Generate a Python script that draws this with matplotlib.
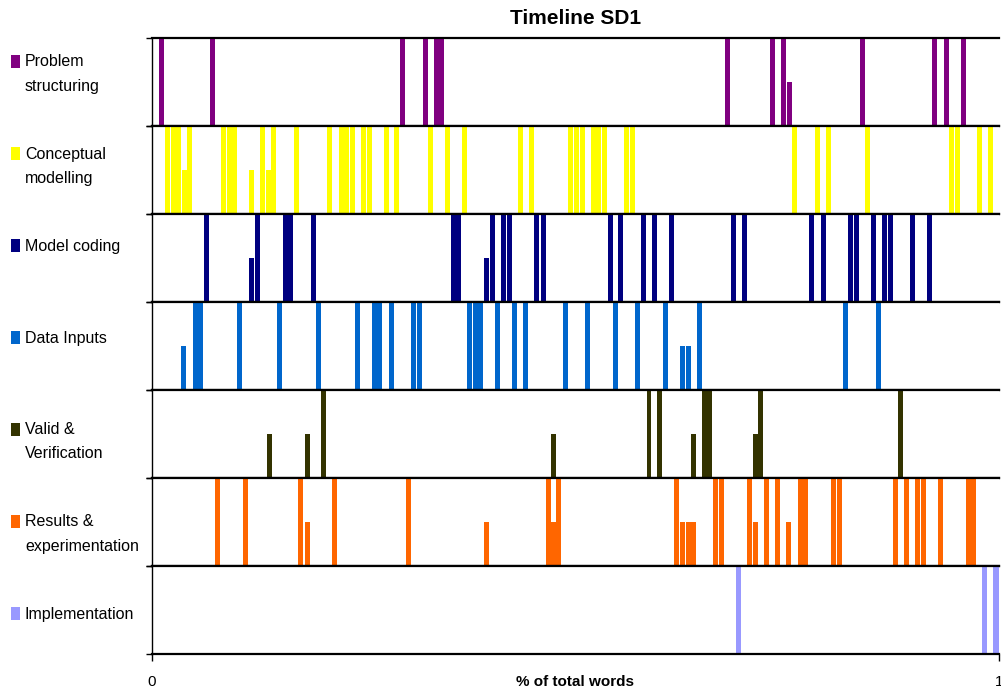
import matplotlib.pyplot as plt
from matplotlib.patches import Rectangle

plt.rcParams['font.family'] = ['Liberation Sans Narrow', 'Liberation Sans', 'DejaVu Sans']

# categories, top to bottom
categories = ["Problem\nstructuring", "Conceptual\nmodelling", "Model coding", "Data Inputs",
              "Valid &\nVerification", "Results &\nexperimentation", "Implementation"]
colors = ["#800080", "#FFFF00", "#000080", "#0066CC", "#333300", "#FF6600", "#9999FF"]

# start of each coded segment (fraction of total words); full = whole row, half = half row
ps_full = [0.0083, 0.0685, 0.2928, 0.3200, 0.3329, 0.3388, 0.6769, 0.7296, 0.7426,
           0.8359, 0.9209, 0.9351, 0.9551]
ps_half = [0.7497]

cm_full = [0.0153, 0.0224, 0.0283, 0.0413, 0.0815, 0.0885, 0.0945, 0.1275, 0.1405,
           0.1673, 0.2066, 0.2208, 0.2267, 0.2334, 0.2468, 0.2538, 0.2739, 0.2857,
           0.3259, 0.3459, 0.3660, 0.4321, 0.4455, 0.4915, 0.4982, 0.5050, 0.5183,
           0.5242, 0.5309, 0.5573, 0.5643, 0.7556, 0.7828, 0.7958, 0.8418, 0.9413,
           0.9481, 0.9740, 0.9870]
cm_half = [0.0351, 0.1145, 0.1342]

mc_full = [0.0614, 0.1216, 0.1547, 0.1606, 0.1877, 0.3530, 0.3589, 0.3991, 0.4120,
           0.4191, 0.4510, 0.4593, 0.5384, 0.5502, 0.5773, 0.5903, 0.6104, 0.6836,
           0.6966, 0.7757, 0.7898, 0.8217, 0.8288, 0.8489, 0.8619, 0.8690, 0.8949,
           0.9150]
mc_half = [0.1145, 0.3920]

di_full = [0.0484, 0.0543, 0.1004, 0.1476, 0.1936, 0.2397, 0.2597, 0.2656, 0.2798,
           0.3058, 0.3129, 0.3719, 0.3790, 0.3849, 0.4050, 0.4250, 0.4380, 0.4852,
           0.5112, 0.5443, 0.5702, 0.6033, 0.6434, 0.8158, 0.8548]
di_half = [0.0342, 0.6234, 0.6305]

vv_full = [0.1995, 0.5839, 0.5968, 0.6494, 0.6557, 0.7155, 0.8813]
vv_half = [0.1354, 0.1809, 0.4711, 0.6364, 0.7096]

re_full = [0.0744, 0.1074, 0.1724, 0.2125, 0.2999, 0.4652, 0.4770, 0.6163, 0.6623,
           0.6694, 0.7025, 0.7226, 0.7355, 0.7627, 0.7686, 0.8017, 0.8087, 0.8749,
           0.8878, 0.9008, 0.9079, 0.9280, 0.9610, 0.9669]
re_half = [0.1806, 0.3920, 0.4711, 0.6234, 0.6305, 0.6364, 0.7096, 0.7485]

im_full = [0.6895, 0.9799, 0.9929, 0.9988]
im_half = []

full_sets = [ps_full, cm_full, mc_full, di_full, vv_full, re_full, im_full]
half_sets = [ps_half, cm_half, mc_half, di_half, vv_half, re_half, im_half]
seg_w = 0.0058

W, H = 1001, 694
fig = plt.figure(figsize=(W / 100, H / 100), dpi=100)

left, right, top0, row_h = 152, 999, 38, 88
for i, (cat, col) in enumerate(zip(categories, colors)):
    top = top0 + row_h * i
    ax = fig.add_axes([left / W, 1 - (top + row_h) / H, (right - left) / W, row_h / H])
    ax.bar(full_sets[i], [1] * len(full_sets[i]), width=seg_w, align='edge', color=col, linewidth=0)
    ax.bar(half_sets[i], [0.5] * len(half_sets[i]), width=seg_w, align='edge', color=col, linewidth=0)
    ax.set_xlim(0, 1)
    ax.set_ylim(0, 1)
    ax.spines['right'].set_visible(False)
    for s in ('top', 'bottom'):
        ax.spines[s].set_linewidth(1.6)
        ax.spines[s].set_color('black')
    ax.spines['left'].set_linewidth(1.0)
    ax.set_yticks([0, 1])
    ax.set_yticklabels([])
    ax.tick_params(axis='y', direction='out', length=4, width=1)
    if i < len(categories) - 1:
        ax.set_xticks([])
    else:
        ax.set_xticks([0, 1])
        ax.set_xticklabels(['0', '1'], fontsize=11, family=['Liberation Sans', 'DejaVu Sans'])
        ax.tick_params(axis='x', direction='out', length=5, width=1, pad=10)
        ax.set_xlabel('% of total words', fontsize=11, fontweight='bold',
                      family=['Liberation Sans', 'DejaVu Sans'], labelpad=2)
        ax.xaxis.set_label_coords(0.5, -0.24)

    # legend entry on the left
    y = 62 + 92 * i
    fig.add_artist(Rectangle((11 / W, 1 - (y + 6) / H), 9 / W, 13 / H,
                             transform=fig.transFigure, color=col, linewidth=0))
    for k, line in enumerate(cat.split('\n')):
        fig.text(25 / W, 1 - (y + 24 * k) / H, line, fontsize=11.5, va='center', ha='left')

fig.text(576 / W, 1 - 18 / H, 'Timeline SD1', fontsize=15, fontweight='bold',
         ha='center', va='center', family=['Liberation Sans', 'DejaVu Sans'])

fig.savefig('out.png', dpi=100)
